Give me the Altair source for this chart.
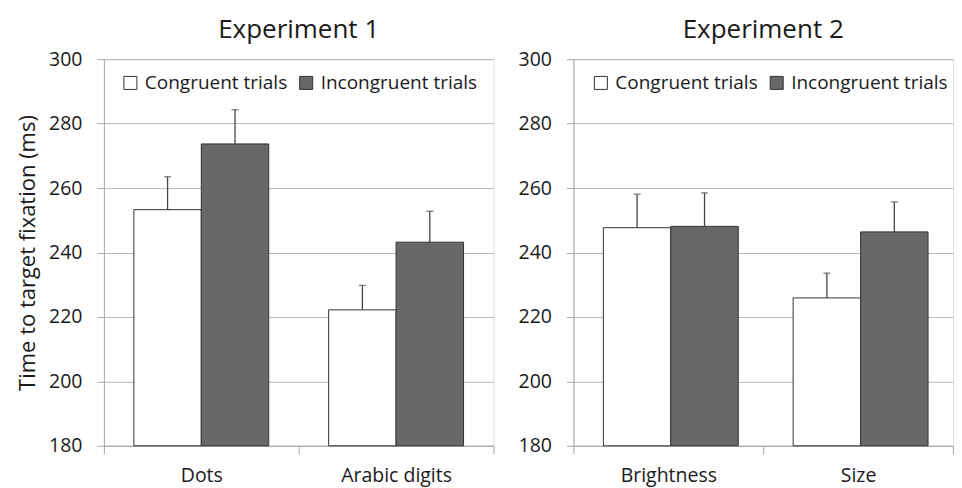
import altair as alt
import pandas as pd

conditions = ["Congruent trials", "Incongruent trials"]

exp1_categories = ["Dots", "Arabic digits"]
exp1_congruent = [253.3, 222.2]
exp1_incongruent = [273.7, 243.2]
exp1_congruent_se = [10.2, 7.6]
exp1_incongruent_se = [10.6, 9.6]

exp2_categories = ["Brightness", "Size"]
exp2_congruent = [247.7, 225.9]
exp2_incongruent = [248.1, 246.4]
exp2_congruent_se = [10.4, 7.7]
exp2_incongruent_se = [10.4, 9.3]

y_ticks = [180, 200, 220, 240, 260, 280, 300]

FONT = "Open Sans"
TEXT = "#1a1a1a"
GRID = "#b8b8b8"
AXIS = "#a8a8a8"


def make_df(cats, cong, incong, cong_se, incong_se):
    rows = []
    for i, c in enumerate(cats):
        rows.append(dict(category=c, condition=conditions[0], mean=cong[i], upper=cong[i] + cong_se[i]))
        rows.append(dict(category=c, condition=conditions[1], mean=incong[i], upper=incong[i] + incong_se[i]))
    return pd.DataFrame(rows)


def panel(df, cats, title, width, y_title, legend_x):
    x = alt.X(
        "category:N",
        sort=cats,
        scale=alt.Scale(domain=cats, paddingInner=0, paddingOuter=0),
        axis=alt.Axis(
            title=None, tickBand="extent", labelAngle=0, labelPadding=13,
            tickSize=8, tickColor=AXIS, domainColor=AXIS, labelFont=FONT,
            labelFontSize=19.5, labelColor=TEXT, grid=False,
        ),
    )
    xo = alt.XOffset(
        "condition:N",
        sort=conditions,
        scale=alt.Scale(domain=conditions, paddingOuter=0.444, paddingInner=0),
    )
    y_axis_kwargs = dict(
        values=y_ticks, tickSize=7, tickColor=AXIS, domainColor=AXIS,
        gridColor=GRID, grid=True, labelFont=FONT, labelFontSize=19.5,
        labelColor=TEXT, labelPadding=15,
    )
    if y_title:
        y_axis = alt.Axis(title=y_title, titleFont=FONT, titleFontSize=22,
                          titleFontWeight="normal", titleColor=TEXT,
                          titlePadding=9, **y_axis_kwargs)
    else:
        y_axis = alt.Axis(title=None, **y_axis_kwargs)
    y = alt.Y("mean:Q", scale=alt.Scale(domain=[180, 300], zero=False, nice=False), axis=y_axis)

    bars = alt.Chart(df).mark_bar(stroke="#333333", strokeWidth=1).encode(
        x=x,
        xOffset=xo,
        y=y,
        y2=alt.datum(180),
        color=alt.Color(
            "condition:N",
            sort=conditions,
            scale=alt.Scale(domain=conditions, range=["#ffffff", "#686868"]),
            legend=alt.Legend(
                title=None, orient="none", legendX=legend_x, legendY=14,
                direction="horizontal", symbolType="square", symbolSize=170,
                symbolStrokeColor="#333333", symbolStrokeWidth=1,
                labelFont=FONT, labelFontSize=19, labelColor=TEXT,
                labelOffset=5, columnPadding=9, padding=0, labelLimit=400,
            ),
        ),
    )
    err = alt.Chart(df).mark_rule(color="#444444", strokeWidth=1.3).encode(
        x=x, xOffset=xo, y="mean:Q", y2="upper:Q"
    )
    cap = alt.Chart(df).mark_tick(color="#444444", size=7, thickness=1.3, orient="horizontal").encode(
        x=x, xOffset=xo, y="upper:Q"
    )
    return alt.layer(bars, err, cap).properties(
        width=width,
        height=387,
        title=alt.TitleParams(
            title, font=FONT, fontSize=26, fontWeight="normal", color=TEXT,
            anchor="middle", offset=6,
        ),
    )


df1 = make_df(exp1_categories, exp1_congruent, exp1_incongruent, exp1_congruent_se, exp1_incongruent_se)
df2 = make_df(exp2_categories, exp2_congruent, exp2_incongruent, exp2_congruent_se, exp2_incongruent_se)

left = panel(df1, exp1_categories, "Experiment 1", 390, "Time to target fixation (ms)", 17)
right = panel(df2, exp2_categories, "Experiment 2", 380, None, 18)

chart = (
    alt.hconcat(left, right, spacing=23)
    .resolve_scale(color="independent", x="independent")
    .properties(padding={"left": 8, "top": 8, "right": 0, "bottom": 2})
    .configure_view(stroke=None)
    .configure(background="white")
)

chart.save("out.html", embed_options={"renderer": "svg", "actions": False})
